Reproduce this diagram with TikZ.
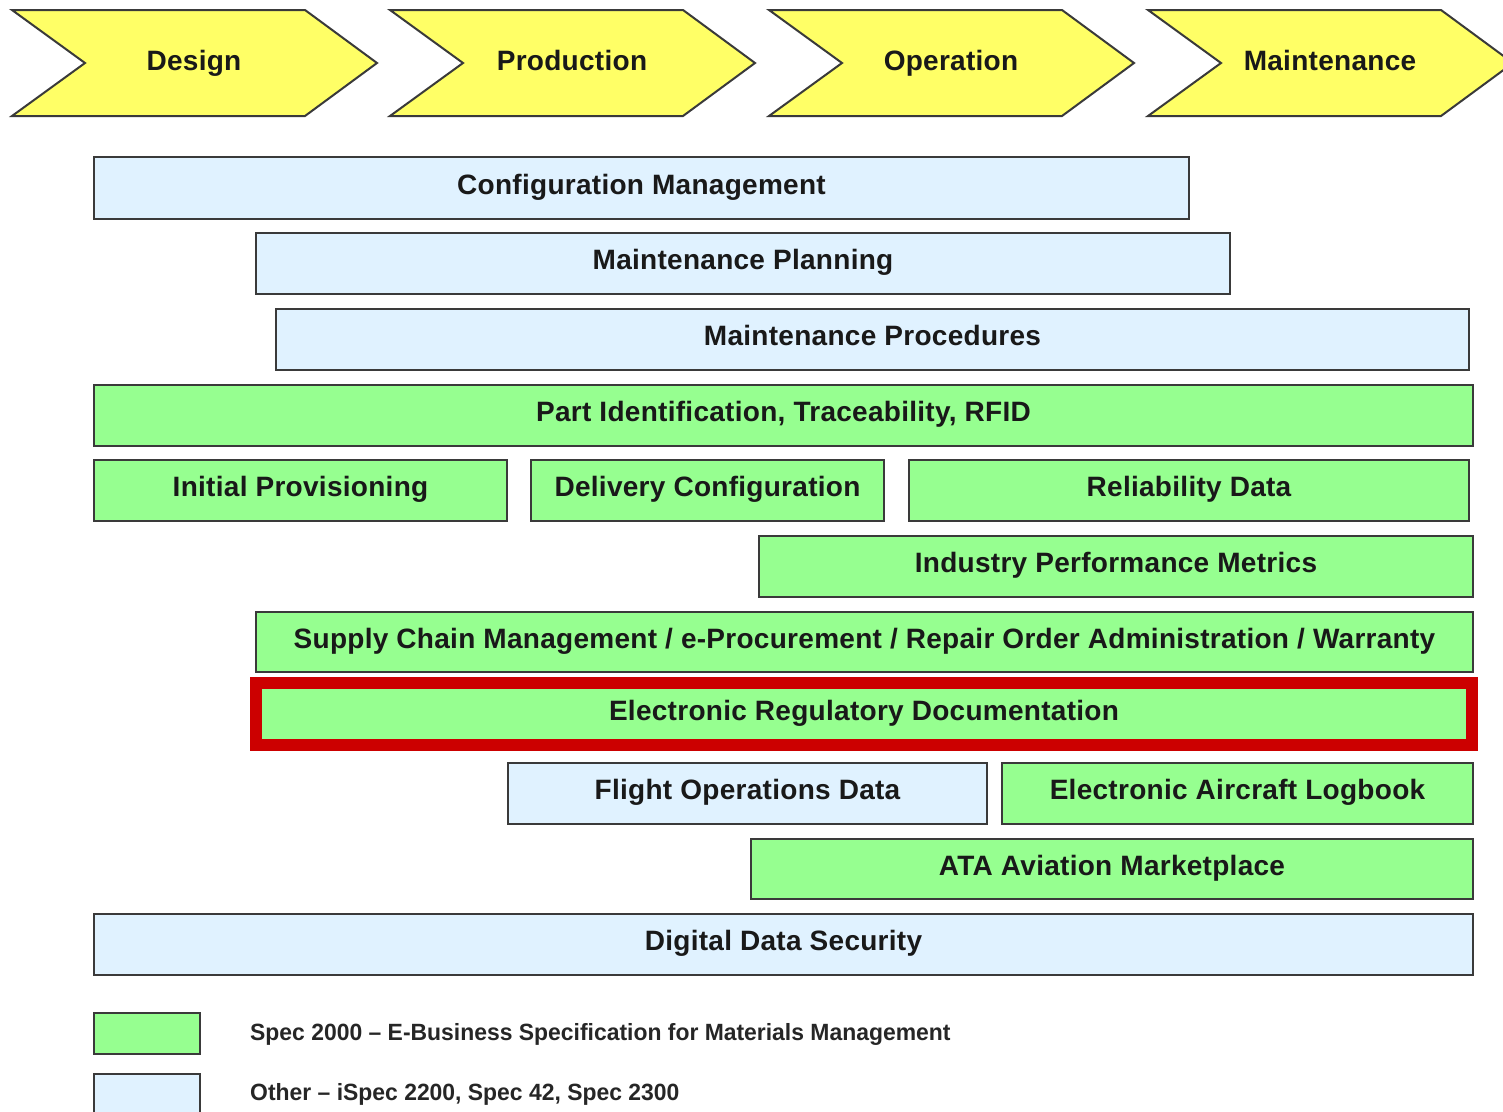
\documentclass[tikz,border=0pt]{standalone}
\usepackage{fontspec}
\setmainfont{Liberation Sans}
\newfontfamily\mainf{Liberation Sans}[LetterSpace=1,Ligatures=TeX]
\newfontfamily\legf{Liberation Sans}[FakeStretch=0.975,Ligatures=TeX]
\definecolor{chevfill}{HTML}{FFFF66}
\definecolor{grn}{HTML}{96FF90}
\definecolor{blu}{HTML}{E0F2FF}
\definecolor{redf}{HTML}{CC0000}
\definecolor{edge}{HTML}{3A3A3A}
\tikzset{
  chev/.style={draw=edge, line width=2pt, fill=chevfill, line join=miter},
  lbl/.style={font=\mainf\fontsize{28}{32}\selectfont\bfseries, text=black!90, text height=20pt, text depth=0pt, inner sep=0pt},
  bx/.style={draw=edge, line width=2pt, anchor=north west, inner sep=0pt, font=\mainf\fontsize{28}{32}\selectfont\bfseries, text=black!90, text height=20pt, text depth=8pt},
  gbox/.style={bx, fill=grn},
  bbox/.style={bx, fill=blu},
  legtxt/.style={anchor=west, font=\legf\fontsize{23.5}{27}\selectfont\bfseries, text=black!85, text height=17pt, text depth=0pt, inner sep=0pt}
}
\begin{document}
\begin{tikzpicture}[x=1pt,y=-1pt]
\useasboundingbox (0,0) rectangle (1503,1111);
% chevrons
\foreach \dx/\nm/\txt in {0/design/Design, 378/production/Production, 757/operation/Operation, 1136/maintenance/Maintenance}{
  \begin{scope}[xshift=\dx pt]
  \draw[chev] (12,10) -- (305,10) -- (377,63) -- (305,116) -- (12,116) -- (85,63) -- cycle;
  \node[lbl] (\nm) at (194,60.5) {\txt};
  \end{scope}
}
% boxes
\node[bbox, minimum width=1095pt, minimum height=62pt] (cm) at (93,156) {Configuration Management};
\node[bbox, minimum width=974pt, minimum height=61pt] (mp) at (255,232) {Maintenance Planning};
\node[bbox, minimum width=1193pt, minimum height=61pt] (mpr) at (275,308) {Maintenance Procedures};
\node[gbox, minimum width=1379pt, minimum height=61pt] (pid) at (93,384) {Part Identification, Traceability, RFID};
\node[gbox, minimum width=413pt, minimum height=61pt] (ip) at (93,459) {Initial Provisioning};
\node[gbox, minimum width=353pt, minimum height=61pt] (dc) at (530,459) {Delivery Configuration};
\node[gbox, minimum width=560pt, minimum height=61pt] (rd) at (908,459) {Reliability Data};
\node[gbox, minimum width=714pt, minimum height=61pt] (ipm) at (758,535) {Industry Performance Metrics};
\node[gbox, minimum width=1217pt, minimum height=60pt] (scm) at (255,611) {Supply Chain Management / e-Procurement / Repair Order Administration / Warranty};
\node[bx, draw=redf, line width=12pt, fill=grn, minimum width=1216pt, minimum height=62pt] (erd) at (250,677) {Electronic Regulatory Documentation};
\node[bbox, minimum width=479pt, minimum height=61pt] (fod) at (507,762) {Flight Operations Data};
\node[gbox, minimum width=471pt, minimum height=61pt] (eal) at (1001,762) {Electronic Aircraft Logbook};
\node[gbox, minimum width=722pt, minimum height=60pt] (ata) at (750,838) {ATA Aviation Marketplace};
\node[bbox, minimum width=1379pt, minimum height=61pt] (dds) at (93,913) {Digital Data Security};
% legend
\node[gbox, minimum width=106pt, minimum height=41pt] (lg) at (93,1012) {};
\node[bbox, minimum width=106pt, minimum height=45pt] (lb) at (93,1073) {};
\node[legtxt] (lgt) at (250,1031.5) {Spec 2000 – E-Business Specification for Materials Management};
\node[legtxt] (lbt) at (250,1092) {Other – iSpec 2200, Spec 42, Spec 2300};
\end{tikzpicture}
\end{document}
